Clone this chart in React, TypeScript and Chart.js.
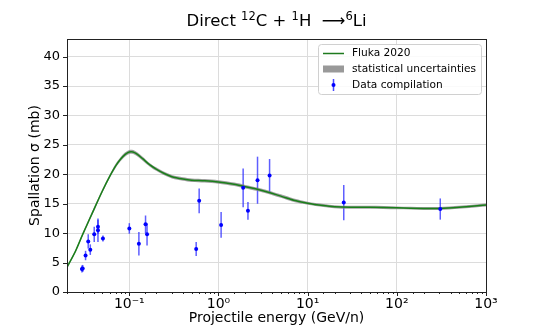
import React, { useEffect, useRef } from "react";
import { Chart, registerables } from "chart.js";

Chart.register(...registerables);

const flukaEnergy = [0.02, 0.025, 0.03, 0.04, 0.05, 0.06, 0.07, 0.08, 0.09, 0.1, 0.11, 0.12, 0.14, 0.17, 0.2, 0.25, 0.3, 0.4, 0.5, 0.7, 1, 1.5, 2, 3, 5, 7, 10, 15, 20, 30, 50, 100, 200, 300, 500, 1000];
const flukaValue = [4.2, 7.0, 9.8, 14.0, 17.2, 19.6, 21.4, 22.6, 23.4, 23.8, 23.8, 23.5, 22.7, 21.6, 20.9, 20.1, 19.6, 19.2, 19.0, 18.9, 18.7, 18.3, 17.9, 17.3, 16.3, 15.6, 15.1, 14.7, 14.5, 14.4, 14.4, 14.3, 14.2, 14.2, 14.4, 14.8];
const flukaErr = [0.2, 0.2, 0.25, 0.3, 0.3, 0.3, 0.35, 0.35, 0.35, 0.35, 0.35, 0.35, 0.35, 0.3, 0.3, 0.3, 0.3, 0.3, 0.3, 0.3, 0.3, 0.3, 0.3, 0.3, 0.3, 0.3, 0.25, 0.25, 0.25, 0.25, 0.25, 0.25, 0.25, 0.25, 0.25, 0.25];

const dataEnergy = [0.0294, 0.030, 0.0323, 0.0346, 0.0365, 0.0404, 0.0445, 0.0445, 0.0506, 0.1, 0.128, 0.152, 0.158, 0.562, 0.607, 1.07, 1.89, 2.14, 2.74, 3.74, 25.4, 307];
const dataValue = [3.9, 4.0, 6.2, 8.6, 7.2, 9.8, 11.1, 10.5, 9.1, 10.8, 8.2, 11.5, 9.8, 7.3, 15.5, 11.4, 17.7, 13.8, 19.0, 19.8, 15.2, 14.1];
const dataErr = [0.6, 0.6, 0.8, 1.2, 0.9, 1.3, 1.2, 2.0, 0.5, 0.9, 2.0, 1.5, 1.9, 1.2, 2.1, 2.2, 3.3, 1.5, 4.0, 2.8, 3.0, 1.8];

const xMin = 0.02;
const xMax = 1000;
const yMin = 0;
const yMax = 43;
const yStep = 5;

const titleParts = [
  { t: "Direct ", sup: false },
  { t: "12", sup: true },
  { t: "C + ", sup: false },
  { t: "1", sup: true },
  { t: "H  ", sup: false },
  { t: "\u27F6", sup: false },
  { t: "6", sup: true },
  { t: "Li", sup: false },
];
const legendLabels = ["Fluka 2020", "statistical uncertainties", "Data compilation"];
const xTitle = "Projectile energy (GeV/n)";
const yTitle = "Spallation \u03C3 (mb)";

const supDigits: Record<string, string> = { "-": "\u207B", "0": "\u2070", "1": "\u00B9", "2": "\u00B2", "3": "\u00B3" };
const FONT = "'DejaVu Sans', sans-serif";

export default function App() {
  const ref = useRef<HTMLCanvasElement | null>(null);
  useEffect(() => {
    document.body.style.margin = "0";
    const canvas = ref.current!;
    const upper = flukaValue.map((v, i) => ({ x: flukaEnergy[i], y: v + flukaErr[i] }));
    const lower = flukaValue.map((v, i) => ({ x: flukaEnergy[i], y: v - flukaErr[i] }));
    const line = flukaValue.map((v, i) => ({ x: flukaEnergy[i], y: v }));
    const pts = dataValue.map((v, i) => ({ x: dataEnergy[i], y: v }));

    const isMajor = (v: number) => Math.abs(Math.log10(v) - Math.round(Math.log10(v))) < 1e-6;

    const custom = {
      id: "custom",
      beforeDatasetsDraw(chart: any) {
        const { ctx, scales } = chart;
        const xs = scales.x, ys = scales.y;
        ctx.save();
        ctx.strokeStyle = "rgba(40,40,255,0.75)";
        ctx.lineWidth = 1.5;
        dataValue.forEach((v, i) => {
          const px = xs.getPixelForValue(dataEnergy[i]);
          ctx.beginPath();
          ctx.moveTo(px, ys.getPixelForValue(v - dataErr[i]));
          ctx.lineTo(px, ys.getPixelForValue(v + dataErr[i]));
          ctx.stroke();
        });
        ctx.restore();
      },
      afterDraw(chart: any) {
        const { ctx, chartArea: a, scales } = chart;
        ctx.save();
        ctx.strokeStyle = "#222";
        ctx.lineWidth = 1;
        ctx.strokeRect(Math.round(a.left) + 0.5, Math.round(a.top) + 0.5, Math.round(a.right - a.left), Math.round(a.bottom - a.top));
        scales.x.ticks.forEach((t: any) => {
          const px = Math.round(scales.x.getPixelForValue(t.value)) + 0.5;
          const len = isMajor(t.value) ? 4 : 2;
          ctx.beginPath();
          ctx.moveTo(px, a.bottom);
          ctx.lineTo(px, a.bottom + len);
          ctx.stroke();
        });
        scales.y.ticks.forEach((t: any) => {
          const py = Math.round(scales.y.getPixelForValue(t.value)) + 0.5;
          ctx.beginPath();
          ctx.moveTo(a.left - 4, py);
          ctx.lineTo(a.left, py);
          ctx.stroke();
        });
        // title
        ctx.fillStyle = "#000";
        ctx.textBaseline = "alphabetic";
        const big = "16.5px " + FONT, small = "11.5px " + FONT;
        let total = 0;
        titleParts.forEach((p) => {
          ctx.font = p.sup ? small : big;
          total += ctx.measureText(p.t).width;
        });
        let x = (a.left + a.right) / 2 - total / 2;
        const by = 26;
        titleParts.forEach((p) => {
          ctx.font = p.sup ? small : big;
          ctx.fillText(p.t, x, p.sup ? by - 6.5 : by);
          x += ctx.measureText(p.t).width;
        });
        // legend
        const lx = 318, ly = 44, lw = 163, lh = 50;
        ctx.fillStyle = "rgba(255,255,255,0.85)";
        ctx.strokeStyle = "#d0d0d0";
        ctx.beginPath();
        (ctx as any).roundRect(lx + 0.5, ly + 0.5, lw, lh, 3);
        ctx.fill();
        ctx.stroke();
        ctx.font = "10.6px " + FONT;
        ctx.textBaseline = "middle";
        const rows = [53.5, 69, 85];
        ctx.strokeStyle = "#1e7a1e";
        ctx.lineWidth = 1.5;
        ctx.beginPath();
        ctx.moveTo(323, rows[0]);
        ctx.lineTo(344, rows[0]);
        ctx.stroke();
        ctx.fillStyle = "#999999";
        ctx.fillRect(323, rows[1] - 3.5, 21, 7);
        ctx.strokeStyle = "rgba(40,40,255,0.85)";
        ctx.beginPath();
        ctx.moveTo(333.5, rows[2] - 6);
        ctx.lineTo(333.5, rows[2] + 6);
        ctx.stroke();
        ctx.fillStyle = "#0000ff";
        ctx.beginPath();
        ctx.arc(333.5, rows[2], 2, 0, Math.PI * 2);
        ctx.fill();
        ctx.fillStyle = "#000";
        legendLabels.forEach((l, i) => ctx.fillText(l, 352, rows[i]));
        ctx.restore();
      },
    };

    const chart = new Chart(canvas, {
      type: "scatter",
      data: {
        datasets: [
          { label: "upper", data: upper, showLine: true, pointRadius: 0, borderWidth: 0, borderColor: "rgba(0,0,0,0)", backgroundColor: "rgba(0,0,0,0)", fill: false, tension: 0.3, order: 3 },
          { label: "lower", data: lower, showLine: true, pointRadius: 0, borderWidth: 0, borderColor: "rgba(0,0,0,0)", backgroundColor: "rgba(128,128,128,0.75)", fill: "-1", tension: 0.3, order: 3 },
          { label: "Fluka 2020", data: line, showLine: true, pointRadius: 0, borderWidth: 1.5, borderColor: "#1a7f1a", fill: false, tension: 0.3, order: 2 },
          { label: "Data compilation", data: pts, showLine: false, pointRadius: 2, pointStyle: "circle", backgroundColor: "#0000ff", borderColor: "#0000ff", borderWidth: 0, order: 1 },
        ],
      },
      options: {
        animation: false,
        responsive: false,
        devicePixelRatio: 1,
        layout: { padding: { left: 27, right: 54, top: 39, bottom: 0 } },
        plugins: { legend: { display: false }, title: { display: false }, tooltip: { enabled: false } },
        scales: {
          x: {
            type: "logarithmic",
            min: xMin,
            max: xMax,
            afterFit: (s: any) => { s.height = 37; },
            grid: {
              color: (c: any) => (c.tick && isMajor(c.tick.value) ? "#dcdcdc" : "rgba(0,0,0,0)"),
              lineWidth: 1,
              drawTicks: true,
              tickLength: 4,
              tickColor: "rgba(0,0,0,0)",
            },
            border: { display: false },
            ticks: {
              autoSkip: false,
              maxRotation: 0,
              color: "#000",
              font: { family: FONT, size: 14 },
              padding: 0,
              callback: (v: any) => {
                const n = Number(v);
                if (!isMajor(n)) return "";
                const e = String(Math.round(Math.log10(n)));
                return "10" + e.split("").map((c) => supDigits[c]).join("");
              },
            },
            title: { display: true, text: xTitle, color: "#000", font: { family: FONT, size: 14 }, padding: { top: 0, bottom: 2 } },
          },
          y: {
            min: yMin,
            max: yMax,
            afterFit: (s: any) => { s.width = 40; },
            afterBuildTicks: (s: any) => { s.ticks = s.ticks.filter((t: any) => t.value % yStep === 0); },
            grid: { color: "#dcdcdc", lineWidth: 1, tickLength: 4, tickColor: "rgba(0,0,0,0)" },
            border: { display: false },
            ticks: { stepSize: yStep, color: "#000", font: { family: FONT, size: 13 }, padding: 3 },
            title: { display: true, text: yTitle, color: "#000", font: { family: FONT, size: 14 }, padding: { top: 0, bottom: 2 } },
          },
        },
      },
      plugins: [custom],
    } as any);
    return () => chart.destroy();
  }, []);
  return <canvas ref={ref} width={540} height={329} style={{ display: "block" }} />;
}
